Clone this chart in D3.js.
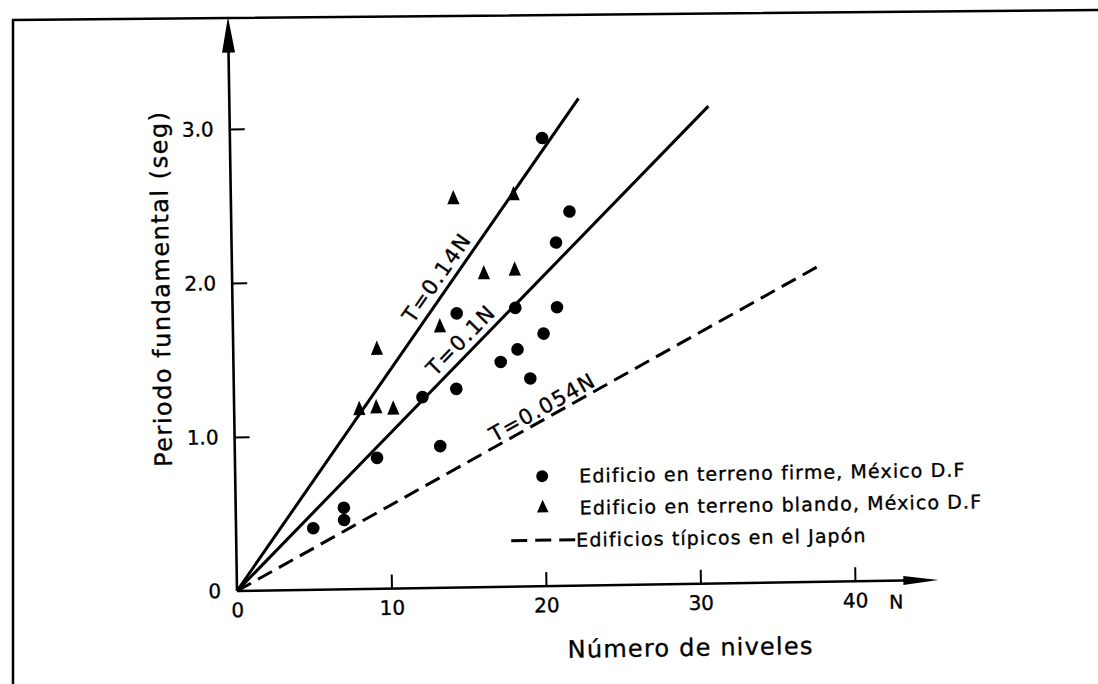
<!DOCTYPE html>
<html>
<head>
<meta charset="utf-8">
<script src="https://cdn.jsdelivr.net/npm/d3@7"></script>
<style>
  body { margin: 0; background: #fff; }
  svg { display: block; font-family: "DejaVu Sans", sans-serif; }
  svg text { fill: #000; stroke: #000; stroke-width: 0.35px; }
</style>
</head>
<body>
<div id="chart"></div>
<script>
// Edificio en terreno firme, México D.F (N, T)
const firmeN = [5, 7, 7, 9.2, 12.2, 13.3, 14.4, 14.5, 17.3, 18.4, 18.3, 19.2, 20.1, 21.0, 21.0, 21.9, 20.2];
const firmeT = [0.40, 0.53, 0.45, 0.85, 1.24, 0.92, 1.29, 1.78, 1.46, 1.54, 1.81, 1.35, 1.64, 2.23, 1.81, 2.43, 2.91];

// Edificio en terreno blando, México D.F (N, T)
const blandoN = [9.3, 8.1, 9.2, 10.3, 13.4, 14.4, 16.3, 18.3, 18.3];
const blandoT = [1.55, 1.16, 1.17, 1.16, 1.69, 2.52, 2.03, 2.05, 2.54];

// fitted lines T = k N
const lineK = [0.14, 0.1, 0.054];
const lineEndN = [22.6, 31, 38];
const lineNames = ["T=0.14N", "T=0.1N", "T=0.054N"];
const lineLabelAt = [14.0, 15.4, 20.3];
const lineDashed = [false, false, true];

const xTicks = [0, 10, 20, 30, 40];
const yTicks = [0, 1, 2, 3];

const legendLabels = [
    "Edificio en terreno firme, México D.F",
    "Edificio en terreno blando, México D.F",
    "Edificios típicos en el Japón"
];

const W = 1098, H = 684;
const ox = 237, oy = 591;

const x = d3.scaleLinear().domain([0, 40]).range([ox, ox + 618]);
const y = d3.scaleLinear().domain([0, 3]).range([oy, oy - 462]);

const svg = d3.select("#chart").append("svg")
    .attr("width", W)
    .attr("height", H);

svg.append("rect").attr("width", W).attr("height", H).attr("fill", "#fff");

// scanned page frame
svg.append("path")
    .attr("d", "M13,684 L13,20 L1098,10")
    .attr("fill", "none")
    .attr("stroke", "#000")
    .attr("stroke-width", 2.5);

// the scan is a little tilted
const g = svg.append("g")
    .attr("transform", `rotate(-0.9, ${ox}, ${oy})`);

// axes lines with arrow heads
const xEnd = x(45.4), yEnd = y(3.73);
g.append("line")
    .attr("x1", ox).attr("y1", oy).attr("x2", xEnd - 20).attr("y2", oy)
    .attr("stroke", "#000").attr("stroke-width", 2.6);
g.append("path")
    .attr("d", `M${xEnd},${oy} L${xEnd - 35},${oy - 4.5} L${xEnd - 35},${oy + 4.5} Z`)
    .attr("fill", "#000");
g.append("line")
    .attr("x1", ox).attr("y1", oy).attr("x2", ox).attr("y2", yEnd + 20)
    .attr("stroke", "#000").attr("stroke-width", 2.6);
g.append("path")
    .attr("d", `M${ox},${yEnd} L${ox - 6.5},${yEnd + 36} L${ox + 6.5},${yEnd + 36} Z`)
    .attr("fill", "#000");

const xAxis = g.append("g")
    .attr("transform", `translate(0, ${oy})`)
    .call(d3.axisBottom(x).tickValues(xTicks).tickSizeInner(-14).tickSizeOuter(0).tickPadding(12).tickFormat(d3.format("d")));

const yAxis = g.append("g")
    .attr("transform", `translate(${ox}, 0)`)
    .call(d3.axisLeft(y).tickValues(yTicks).tickSizeInner(-15).tickSizeOuter(0).tickPadding(16)
        .tickFormat(d => d === 0 ? "0" : d.toFixed(1)));

[xAxis, yAxis].forEach(a => {
    a.select(".domain").remove();
    a.selectAll(".tick line").attr("stroke", "#000").attr("stroke-width", 2);
    a.selectAll(".tick text")
        .attr("fill", "#000")
        .style("font-size", "20px")
        .style("font-family", "DejaVu Sans, sans-serif");
});
xAxis.selectAll(".tick").filter(d => d === 0).select("line").remove();
yAxis.selectAll(".tick").filter(d => d === 0).select("line").remove();

g.append("text")
    .attr("x", x(40) + 34).attr("y", oy + 28)
    .attr("font-size", 19)
    .text("N");

g.append("text")
    .attr("x", x(29.3)).attr("y", oy + 72)
    .attr("text-anchor", "middle")
    .attr("font-size", 24)
    .attr("letter-spacing", 1.2)
    .text("Número de niveles");

g.append("text")
    .attr("transform", `translate(${ox - 63}, ${y(1.97)}) rotate(-90)`)
    .attr("text-anchor", "middle")
    .attr("font-size", 24)
    .attr("letter-spacing", 1.5)
    .text("Periodo fundamental (seg)");

// fitted lines
lineK.forEach((k, i) => {
    g.append("line")
        .attr("x1", x(0)).attr("y1", y(0))
        .attr("x2", x(lineEndN[i])).attr("y2", y(k * lineEndN[i]))
        .attr("stroke", "#000")
        .attr("stroke-width", 3)
        .attr("stroke-dasharray", lineDashed[i] ? "16,8" : null);

    const n = lineLabelAt[i];
    const ang = Math.atan2(y(k) - y(0), x(1) - x(0)) * 180 / Math.PI;
    g.append("text")
        .attr("transform", `translate(${x(n)}, ${y(k * n)}) rotate(${ang})`)
        .attr("dy", lineDashed[i] ? -4 : -7)
        .attr("text-anchor", "middle")
        .attr("font-size", 21)
        .attr("letter-spacing", 1.5)
        .text(lineNames[i]);
});

// points
const firme = firmeN.map((n, i) => ({ n, t: firmeT[i] }));
const blando = blandoN.map((n, i) => ({ n, t: blandoT[i] }));

g.selectAll("circle.firme")
    .data(firme)
    .enter()
    .append("circle")
    .attr("class", "firme")
    .attr("cx", d => x(d.n))
    .attr("cy", d => y(d.t))
    .attr("r", 6.3)
    .attr("fill", "#000");

const tri = d3.symbol().type(d3.symbolTriangle).size(90);
g.selectAll("path.blando")
    .data(blando)
    .enter()
    .append("path")
    .attr("class", "blando")
    .attr("transform", d => `translate(${x(d.n)}, ${y(d.t)}) scale(0.85, 1.15)`)
    .attr("d", tri)
    .attr("fill", "#000");

// legend
const legend = g.append("g").attr("transform", "translate(544, 481)");
legend.append("circle").attr("r", 6).attr("fill", "#000");
legend.append("path")
    .attr("transform", "translate(0, 32) scale(0.8, 1)")
    .attr("d", tri)
    .attr("fill", "#000");
legend.append("line")
    .attr("x1", -32).attr("x2", 32).attr("y1", 64).attr("y2", 64)
    .attr("stroke", "#000").attr("stroke-width", 3)
    .attr("stroke-dasharray", "16,8");
legend.selectAll("text.lg")
    .data(legendLabels)
    .enter()
    .append("text")
    .attr("class", "lg")
    .attr("x", (d, i) => i === 2 ? 33 : 37)
    .attr("y", (d, i) => i * 32 + 7)
    .attr("font-size", 19)
    .attr("letter-spacing", 1.1)
    .text(d => d);
</script>
</body>
</html>
